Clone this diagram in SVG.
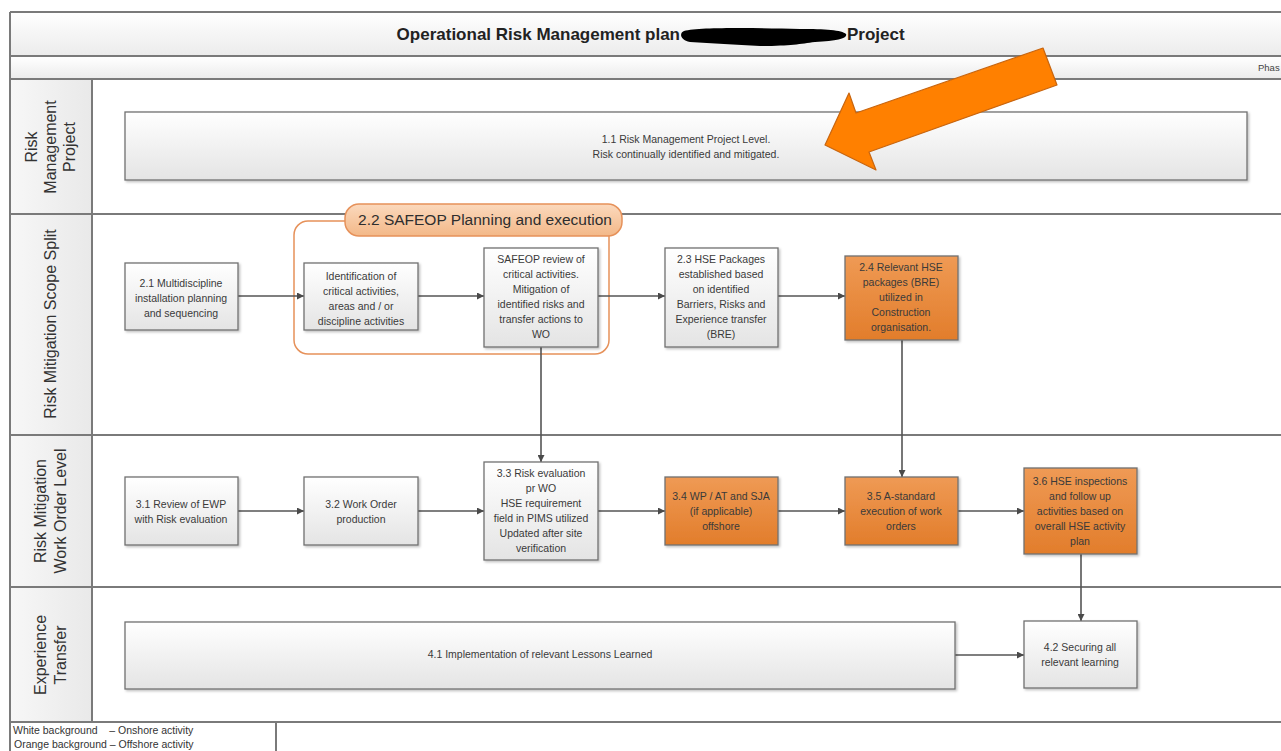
<svg xmlns="http://www.w3.org/2000/svg" width="1281" height="751" viewBox="0 0 1281 751">
  <defs>
    <linearGradient id="gBox" x1="0" y1="0" x2="0" y2="1">
      <stop offset="0" stop-color="#ffffff"/>
      <stop offset="1" stop-color="#e4e4e4"/>
    </linearGradient>
    <linearGradient id="gOrange" x1="0" y1="0" x2="0" y2="1">
      <stop offset="0" stop-color="#ef9a55"/>
      <stop offset="1" stop-color="#e27d2b"/>
    </linearGradient>
    <linearGradient id="gBand" x1="0" y1="0" x2="0" y2="1">
      <stop offset="0" stop-color="#ffffff"/>
      <stop offset="1" stop-color="#ececec"/>
    </linearGradient>
    <linearGradient id="gLane" x1="0" y1="0" x2="1" y2="0">
      <stop offset="0" stop-color="#f7f7f7"/>
      <stop offset="1" stop-color="#e9e9e9"/>
    </linearGradient>
    <linearGradient id="gPill" x1="0" y1="0" x2="0" y2="1">
      <stop offset="0" stop-color="#fbd9bd"/>
      <stop offset="1" stop-color="#f3b888"/>
    </linearGradient>
    <filter id="shadow" x="-10%" y="-10%" width="130%" height="130%">
      <feDropShadow dx="1.5" dy="1.5" stdDeviation="1" flood-color="#000" flood-opacity="0.25"/>
    </filter>
    <marker id="arrow" viewBox="0 0 10 10" refX="10" refY="5" markerWidth="7" markerHeight="7" markerUnits="userSpaceOnUse" orient="auto">
      <path d="M0,0 L10,5 L0,10 z" fill="#4a4a4a"/>
    </marker>
    <style>
      .frame { fill: none; stroke: #7a7a7a; stroke-width: 2; }
      .box { fill: url(#gBox); stroke: #707070; stroke-width: 1.3; filter: url(#shadow); }
      .obox { fill: url(#gOrange); stroke: #707070; stroke-width: 1.3; filter: url(#shadow); }
      .t { font-family: "Liberation Sans", Arial, sans-serif; font-size: 10.5px; fill: #3a3a3a; text-anchor: middle; }
      .lane { font-family: "Liberation Sans", Arial, sans-serif; font-size: 16px; fill: #333; text-anchor: middle; }
      .conn { fill: none; stroke: #555; stroke-width: 1.6; marker-end: url(#arrow); }
      .legend { font-family: "Liberation Sans", Arial, sans-serif; font-size: 10.5px; fill: #333; white-space: pre; }
    </style>
  </defs>

  <rect width="1281" height="751" fill="#ffffff"/>

  <!-- header bands -->
  <g id="header">
    <rect x="10" y="12" width="1280" height="43" fill="url(#gBand)"/>
    <rect x="10" y="57" width="1280" height="21" fill="url(#gBand)"/>
    <line x1="10" y1="12" x2="1281" y2="12" class="frame"/>
    <line x1="10" y1="56" x2="1281" y2="56" class="frame" stroke-width="2.5"/>
    <line x1="10" y1="79" x2="1281" y2="79" class="frame" stroke-width="2.5"/>
    <text x="680" y="40" font-family="Liberation Sans, Arial, sans-serif" font-size="17" font-weight="bold" fill="#222" text-anchor="end">Operational Risk Management plan</text>
    <path d="M684,31 C700,27 760,28 800,29 C825,29 842,30 846,34 C848,38 838,41 815,42 C800,44 790,46 760,46 C735,45 712,43 690,42 C680,40 679,33 684,31 z" fill="#000"/>
    <text x="847" y="40" font-family="Liberation Sans, Arial, sans-serif" font-size="17" font-weight="bold" fill="#222">Project</text>
    <text x="1258" y="71" font-family="Liberation Sans, Arial, sans-serif" font-size="9.5" fill="#444">Phas</text>
  </g>

  <!-- swimlanes -->
  <g id="lanes">
    <rect x="10" y="80" width="82" height="642" fill="url(#gLane)"/>
    <line x1="10" y1="12" x2="10" y2="751" class="frame"/>
    <line x1="92" y1="79" x2="92" y2="722" class="frame"/>
    <line x1="10" y1="214" x2="1281" y2="214" class="frame"/>
    <line x1="10" y1="435" x2="1281" y2="435" class="frame"/>
    <line x1="10" y1="587" x2="1281" y2="587" class="frame"/>
    <line x1="10" y1="722" x2="1281" y2="722" class="frame"/>
    <line x1="276" y1="722" x2="276" y2="751" class="frame" stroke-width="1.5"/>
    <text class="lane" transform="translate(51,147) rotate(-90)"><tspan x="0" y="-14">Risk</tspan><tspan x="0" y="5">Management</tspan><tspan x="0" y="24">Project</tspan></text>
    <text class="lane" transform="translate(56,324) rotate(-90)">Risk Mitigation Scope Split</text>
    <text class="lane" transform="translate(50,511) rotate(-90)"><tspan x="0" y="-4">Risk Mitigation</tspan><tspan x="0" y="16">Work Order Level</tspan></text>
    <text class="lane" transform="translate(50,655) rotate(-90)"><tspan x="0" y="-4">Experience</tspan><tspan x="0" y="16">Transfer</tspan></text>
  </g>

  <!-- legend -->
  <g id="legend">
    <text class="legend" x="13" y="734" xml:space="preserve">White background    – Onshore activity</text>
    <text class="legend" x="14" y="748">Orange background – Offshore activity</text>
  </g>

  <!-- SAFEOP container -->
  <g id="safeop-group">
    <rect x="294" y="221" width="315" height="133" rx="14" fill="none" stroke="#e6915a" stroke-width="1.5"/>
    <rect x="345" y="204" width="277" height="32" rx="14" fill="url(#gPill)" stroke="#e6915a" stroke-width="1.5"/>
    <text x="485" y="225" font-family="Liberation Sans, Arial, sans-serif" font-size="15.5" fill="#2e2e2e" text-anchor="middle">2.2 SAFEOP Planning and execution</text>
  </g>

  <!-- connectors -->
  <g id="connectors">
    <line class="conn" x1="238" y1="296" x2="304" y2="296"/>
    <line class="conn" x1="418" y1="296" x2="484" y2="296"/>
    <line class="conn" x1="598" y1="296" x2="665" y2="296"/>
    <line class="conn" x1="778" y1="296" x2="845" y2="296"/>
    <line class="conn" x1="541" y1="347" x2="541" y2="462"/>
    <line class="conn" x1="902" y1="340" x2="902" y2="477"/>
    <line class="conn" x1="238" y1="511" x2="304" y2="511"/>
    <line class="conn" x1="418" y1="511" x2="484" y2="511"/>
    <line class="conn" x1="598" y1="511" x2="665" y2="511"/>
    <line class="conn" x1="778" y1="511" x2="845" y2="511"/>
    <line class="conn" x1="958" y1="511" x2="1024" y2="511"/>
    <line class="conn" x1="1081" y1="554" x2="1081" y2="621"/>
    <line class="conn" x1="955" y1="655" x2="1024" y2="655"/>
  </g>

  <!-- nodes -->
  <g id="n1-1">
    <rect class="box" x="125" y="112" width="1122" height="68"/>
    <text class="t" x="686" y="143">1.1 Risk Management Project Level.</text>
    <text class="t" x="686" y="158">Risk continually identified and mitigated.</text>
  </g>

  <g id="n2-1">
    <rect class="box" x="125" y="263" width="113" height="67"/>
    <text class="t" x="181" y="287">2.1 Multidiscipline</text>
    <text class="t" x="181" y="302">installation planning</text>
    <text class="t" x="181" y="317">and sequencing</text>
  </g>

  <g id="n2-2a">
    <rect class="box" x="304" y="263" width="114" height="67"/>
    <text class="t" x="361" y="280">Identification of</text>
    <text class="t" x="361" y="295">critical activities,</text>
    <text class="t" x="361" y="310">areas and / or</text>
    <text class="t" x="361" y="325">discipline activities</text>
  </g>

  <g id="n2-2b">
    <rect class="box" x="484" y="248" width="114" height="99"/>
    <text class="t" x="541" y="263">SAFEOP review of</text>
    <text class="t" x="541" y="278">critical activities.</text>
    <text class="t" x="541" y="293">Mitigation of</text>
    <text class="t" x="541" y="308">identified risks and</text>
    <text class="t" x="541" y="323">transfer actions to</text>
    <text class="t" x="541" y="338">WO</text>
  </g>

  <g id="n2-3">
    <rect class="box" x="665" y="248" width="113" height="99"/>
    <text class="t" x="721" y="263">2.3 HSE Packages</text>
    <text class="t" x="721" y="278">established based</text>
    <text class="t" x="721" y="293">on identified</text>
    <text class="t" x="721" y="308">Barriers, Risks and</text>
    <text class="t" x="721" y="323">Experience transfer</text>
    <text class="t" x="721" y="338">(BRE)</text>
  </g>

  <g id="n2-4">
    <rect class="obox" x="845" y="256" width="113" height="84"/>
    <text class="t" x="901" y="271">2.4 Relevant HSE</text>
    <text class="t" x="901" y="286">packages (BRE)</text>
    <text class="t" x="901" y="301">utilized in</text>
    <text class="t" x="901" y="316">Construction</text>
    <text class="t" x="901" y="331">organisation.</text>
  </g>

  <g id="n3-1">
    <rect class="box" x="125" y="477" width="113" height="68"/>
    <text class="t" x="181" y="508">3.1 Review of EWP</text>
    <text class="t" x="181" y="523">with Risk evaluation</text>
  </g>

  <g id="n3-2">
    <rect class="box" x="304" y="477" width="114" height="68"/>
    <text class="t" x="361" y="508">3.2 Work Order</text>
    <text class="t" x="361" y="523">production</text>
  </g>

  <g id="n3-3">
    <rect class="box" x="484" y="462" width="114" height="98"/>
    <text class="t" x="541" y="477">3.3 Risk evaluation</text>
    <text class="t" x="541" y="492">pr WO</text>
    <text class="t" x="541" y="507">HSE requirement</text>
    <text class="t" x="541" y="522">field in PIMS utilized</text>
    <text class="t" x="541" y="537">Updated after site</text>
    <text class="t" x="541" y="552">verification</text>
  </g>

  <g id="n3-4">
    <rect class="obox" x="665" y="477" width="113" height="68"/>
    <text class="t" x="721" y="500">3.4 WP / AT and SJA</text>
    <text class="t" x="721" y="515">(if applicable)</text>
    <text class="t" x="721" y="530">offshore</text>
  </g>

  <g id="n3-5">
    <rect class="obox" x="845" y="477" width="113" height="68"/>
    <text class="t" x="901" y="500">3.5 A-standard</text>
    <text class="t" x="901" y="515">execution of work</text>
    <text class="t" x="901" y="530">orders</text>
  </g>

  <g id="n3-6">
    <rect class="obox" x="1024" y="468" width="113" height="86"/>
    <text class="t" x="1080" y="485">3.6 HSE inspections</text>
    <text class="t" x="1080" y="500">and follow up</text>
    <text class="t" x="1080" y="515">activities based on</text>
    <text class="t" x="1080" y="530">overall HSE activity</text>
    <text class="t" x="1080" y="545">plan</text>
  </g>

  <g id="n4-1">
    <rect class="box" x="125" y="622" width="830" height="67"/>
    <text class="t" x="540" y="658">4.1 Implementation of relevant Lessons Learned</text>
  </g>

  <g id="n4-2">
    <rect class="box" x="1024" y="621" width="113" height="67"/>
    <text class="t" x="1080" y="651">4.2 Securing all</text>
    <text class="t" x="1080" y="666">relevant learning</text>
  </g>

  <!-- highlight arrow -->
  <g id="pointer">
    <polygon points="1043,48 1057,85 869,152 876,170 825,145 849,93 856,113" fill="#ff8000" stroke="#c8650f" stroke-width="1.2" stroke-linejoin="round"/>
  </g>
</svg>
